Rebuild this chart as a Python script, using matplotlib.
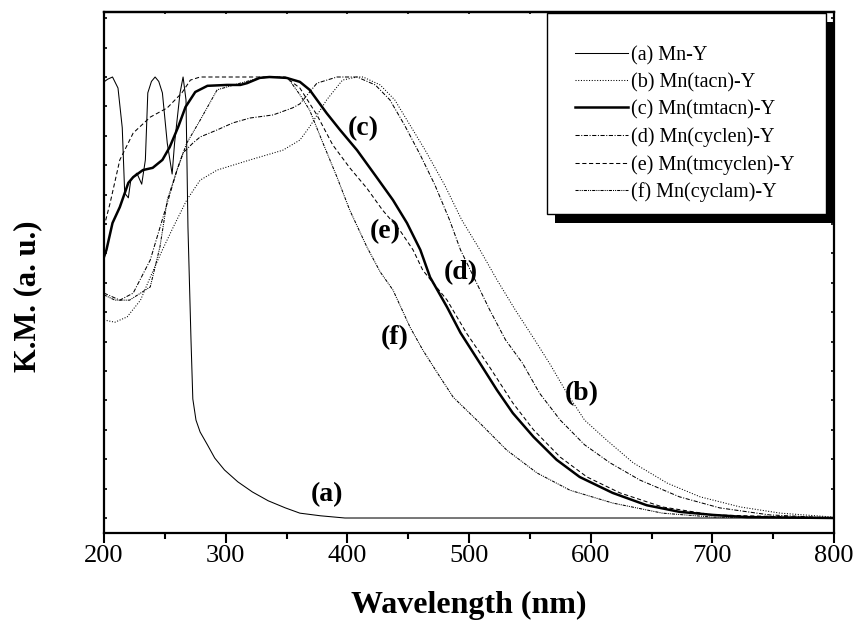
import matplotlib
matplotlib.use("Agg")
import matplotlib.pyplot as plt
from matplotlib.patches import Rectangle
from matplotlib.ticker import MultipleLocator

plt.rcParams['font.family'] = ['Liberation Serif', 'DejaVu Serif']

# Diffuse reflectance spectra (Kubelka-Munk, normalised)
wl_a = [200, 203, 207, 211.5, 215, 217, 220, 222, 224, 227, 231, 234, 236, 239, 242, 245, 248,
        252, 256, 258, 262.5, 265, 267.4, 269, 271.5, 273, 275.6, 279, 285, 291, 299, 310, 322,
        335, 349, 361, 378, 398, 500, 600, 700, 800]
km_a = [0.989, 0.995, 1.0, 0.975, 0.885, 0.737, 0.726, 0.766, 0.773, 0.782, 0.757, 0.812, 0.964,
        0.99, 1.0, 0.99, 0.964, 0.85, 0.78, 0.85, 0.964, 1.0, 0.948, 0.66, 0.404, 0.27, 0.222,
        0.195, 0.166, 0.136, 0.109, 0.082, 0.059, 0.039, 0.023, 0.011, 0.005, 0.0, 0.0, 0.0, 0.0, 0.0]

wl_b = [200, 209, 219, 230, 238, 248, 257, 268, 279, 293, 320, 347, 361, 369, 383, 396, 408, 413,
        427, 439, 451.5, 464, 480, 494, 509, 523, 538, 554, 567, 580.5, 595, 613, 635, 663, 690,
        723, 756, 800]
km_b = [0.449, 0.444, 0.456, 0.494, 0.546, 0.608, 0.660, 0.721, 0.766, 0.789, 0.812, 0.834, 0.857,
        0.887, 0.948, 0.993, 1.0, 1.0, 0.982, 0.948, 0.891, 0.834, 0.755, 0.676, 0.608, 0.540,
        0.472, 0.404, 0.347, 0.283, 0.222, 0.177, 0.125, 0.079, 0.048, 0.025, 0.011, 0.002]

wl_c = [200, 202, 207, 213, 220, 224, 232, 240, 248, 254, 261, 267, 275, 285, 301, 312, 317.5, 328,
        336, 350, 361, 369, 383, 394, 408, 424, 437.5, 449, 460, 468, 482, 493, 509, 523, 536, 553,
        572, 591, 618, 646, 673, 700.5, 728.5, 800]
km_c = [0.592, 0.608, 0.669, 0.705, 0.760, 0.773, 0.789, 0.794, 0.812, 0.841, 0.887, 0.932, 0.966,
        0.980, 0.982, 0.982, 0.986, 0.998, 1.0, 0.998, 0.989, 0.971, 0.918, 0.880, 0.834, 0.773,
        0.721, 0.669, 0.608, 0.546, 0.478, 0.420, 0.351, 0.290, 0.238, 0.184, 0.132, 0.093, 0.057,
        0.029, 0.014, 0.007, 0.002, 0.0]

wl_d = [200, 213, 224, 238, 252, 260, 265, 273, 279, 293, 306, 320, 339, 355, 361, 375, 391.5, 400,
        408, 423, 435, 447, 460, 472, 484, 493, 505, 517, 530, 544, 558, 575, 595, 616, 640.5, 673,
        706, 747, 800]
km_d = [0.510, 0.494, 0.510, 0.585, 0.714, 0.789, 0.828, 0.850, 0.864, 0.880, 0.896, 0.907, 0.914,
        0.930, 0.939, 0.986, 1.0, 1.0, 1.0, 0.982, 0.948, 0.891, 0.823, 0.755, 0.676, 0.608, 0.540,
        0.472, 0.404, 0.351, 0.283, 0.222, 0.166, 0.125, 0.086, 0.048, 0.023, 0.007, 0.0]

wl_e = [200, 205, 213, 224, 238, 252, 264, 271, 279, 349, 361, 375, 388, 402, 416, 429, 443, 454,
        462, 482, 498, 517, 536, 553, 575, 597, 624, 659, 700.5, 800]
km_e = [0.660, 0.714, 0.812, 0.873, 0.909, 0.930, 0.964, 0.993, 1.0, 1.0, 0.975, 0.914, 0.846,
        0.794, 0.748, 0.698, 0.653, 0.608, 0.562, 0.494, 0.419, 0.342, 0.261, 0.200, 0.138, 0.093,
        0.057, 0.025, 0.007, 0.0]

wl_f = [200, 209, 221, 238, 246, 252, 260, 268, 279, 293, 312, 328, 341, 351, 361, 369, 380, 391.5,
        402, 416, 427, 437.5, 451.5, 462, 474, 487, 509, 531, 556, 583, 618, 659, 700.5, 800]
km_f = [0.506, 0.494, 0.494, 0.524, 0.615, 0.721, 0.789, 0.850, 0.902, 0.971, 0.986, 0.998, 1.0,
        0.998, 0.960, 0.925, 0.850, 0.773, 0.698, 0.615, 0.558, 0.517, 0.433, 0.381, 0.329, 0.274,
        0.215, 0.154, 0.102, 0.063, 0.034, 0.011, 0.002, 0.0]

labels = ['(a) Mn-Y', '(b) Mn(tacn)-Y', '(c) Mn(tmtacn)-Y', '(d) Mn(cyclen)-Y',
          '(e) Mn(tmcyclen)-Y', '(f) Mn(cyclam)-Y']
tags = ['(a)', '(b)', '(c)', '(d)', '(e)', '(f)']
tag_wl = [383, 593, 413, 493, 431, 439]
tag_km = [0.054, 0.283, 0.884, 0.556, 0.649, 0.408]

fig = plt.figure(figsize=(8.58, 6.28), dpi=100)
ax = fig.add_axes([104 / 858, 95 / 628, 730 / 858, 521 / 628])

thin = 0.75
ax.plot(wl_a, km_a, color='black', lw=thin, ls='-', label=labels[0])
ax.plot(wl_b, km_b, color='black', lw=thin, ls=(0, (1, 1.6)), label=labels[1])
ax.plot(wl_c, km_c, color='black', lw=1.8, ls='-', label=labels[2])
ax.plot(wl_d, km_d, color='black', lw=thin, ls=(0, (4, 1.5, 1, 1.5)), label=labels[3])
ax.plot(wl_e, km_e, color='black', lw=thin, ls=(0, (4, 2.5)), label=labels[4])
ax.plot(wl_f, km_f, color='black', lw=thin, ls=(0, (3, 1, 1, 1, 1, 1)), label=labels[5])

for t, x, y in zip(tags, tag_wl, tag_km):
    ax.text(x, y, t, fontsize=20, fontweight='bold', ha='center', va='center')

ax.set_xlim(200, 800)
ax.set_ylim(-0.034, 1.1474)
ax.xaxis.set_major_locator(MultipleLocator(100))
ax.xaxis.set_minor_locator(MultipleLocator(50))
ax.yaxis.set_major_locator(MultipleLocator(1 / 15))
ax.set_yticklabels([])
ax.tick_params(axis='x', which='major', direction='out', length=7, width=1.5,
               labelsize=19, pad=2, top=False)
ax.tick_params(axis='x', which='minor', direction='out', length=4.3, width=1.5, top=False)
ax.tick_params(axis='y', which='major', direction='in', length=2.5, width=1.2,
               left=True, right=True)
for s in ax.spines.values():
    s.set_linewidth(1.6)

# small inward marks along the top edge
top = ax.secondary_xaxis('top')
top.xaxis.set_major_locator(MultipleLocator(50))
top.tick_params(direction='in', length=1.5, width=1.2, labeltop=False)
top.spines['top'].set_linewidth(1.6)

ax.set_xlabel('Wavelength (nm)', fontsize=23, fontweight='bold', va='center')
ax.xaxis.set_label_coords(0.5, -(605 - 533) / 521)
ax.set_ylabel('K.M. (a. u.)', fontsize=22, fontweight='bold', va='center')
ax.yaxis.set_label_coords(-(104 - 28) / 730, (533 - 296) / 521)

# legend box with a solid drop shadow
bx0, bx1 = (547 - 104) / 730, (826 - 104) / 730
by0, by1 = (533 - 214) / 521, (533 - 13) / 521
dx, dy = 8 / 730, 9 / 521
ax.add_patch(Rectangle((bx0 + dx, by0 - dy), bx1 - bx0, by1 - by0, transform=ax.transAxes,
                       facecolor='black', edgecolor='black', lw=0, zorder=5, clip_on=False))
ax.add_patch(Rectangle((bx0, by0), bx1 - bx0, by1 - by0, transform=ax.transAxes,
                       facecolor='white', edgecolor='black', lw=1.0, zorder=6, clip_on=False))
leg = ax.legend(loc='upper left', bbox_to_anchor=((575 - 104) / 730, (533 - 46) / 521),
                frameon=False, borderpad=0, borderaxespad=0, handlelength=2.62,
                handletextpad=0.15, labelspacing=0.39, fontsize=14.5)
leg.set_zorder(7)

fig.savefig('out.png', dpi=100)
